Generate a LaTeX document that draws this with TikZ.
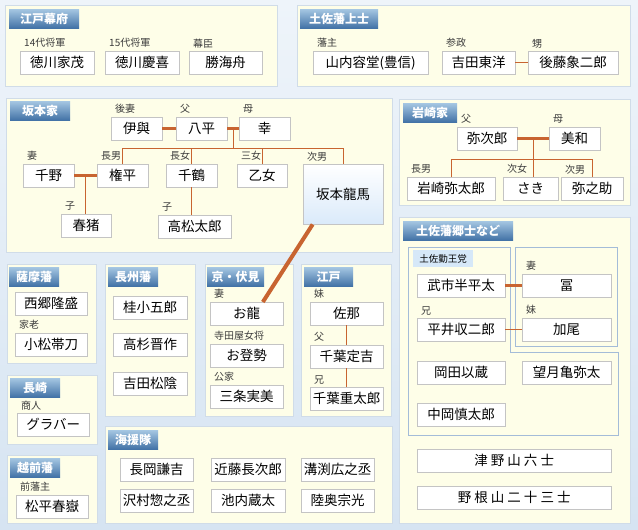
\documentclass[tikz,border=0pt]{standalone}
\usepackage{fontspec}
\setmainfont{Noto Sans CJK JP}
\usepackage{tikz}
\usetikzlibrary{positioning,calc,shadows}
\definecolor{bgtop}{RGB}{238,244,250}
\definecolor{bgbot}{RGB}{214,228,242}
\definecolor{panelbg}{RGB}{254,254,232}
\definecolor{panelline}{RGB}{208,220,232}
\definecolor{hdrtop}{RGB}{164,198,226}
\definecolor{hdrbot}{RGB}{66,114,166}
\definecolor{boxline}{RGB}{196,196,196}
\definecolor{lbltext}{RGB}{60,60,60}
\definecolor{famline}{RGB}{200,100,48}
\definecolor{frameline}{RGB}{164,188,216}
\definecolor{kinnobg}{RGB}{214,232,248}
\definecolor{ryomabot}{RGB}{218,234,250}

\begin{document}
\begin{tikzpicture}[x=1pt, y=-1pt,
    panel/.style={draw=panelline, fill=panelbg},
    hdr/.style={anchor=north west, minimum height=19pt, inner sep=0pt, top color=hdrtop, bottom color=hdrbot, text=white, font=\bfseries\fontsize{12}{12}\selectfont},
    pbox/.style={anchor=north west, draw=boxline, fill=white, minimum height=23pt, inner sep=0pt, font=\fontsize{13.5}{14}\selectfont, drop shadow={shadow xshift=1pt, shadow yshift=-1pt, opacity=0.15}},
    lbl/.style={inner sep=0pt, font=\fontsize{10}{10}\selectfont, text=lbltext},
    tie/.style={draw=famline, line width=3.5pt},
    kin/.style={draw=famline, line width=1.2pt},
    tframe/.style={draw=frameline, line width=0.8pt},
]
    \useasboundingbox (0,0) rectangle (638,530);
    \fill[top color=bgtop, bottom color=bgbot] (0,0) rectangle (638,530);

    % panels
    \draw[panel] (5,5) rectangle (277,86);
    \draw[panel] (297,5) rectangle (630,86);
    \draw[panel] (6,98) rectangle (392,252);
    \draw[panel] (399,99) rectangle (630,205);
    \draw[panel] (7,264) rectangle (96,363);
    \draw[panel] (7,375) rectangle (97,444);
    \draw[panel] (7,455) rectangle (97,523);
    \draw[panel] (105,264) rectangle (195,416);
    \draw[panel] (205,264) rectangle (293,416);
    \draw[panel] (301,264) rectangle (391,416);
    \draw[panel] (105,426) rectangle (392,523);
    \draw[panel] (399,217) rectangle (630,523);

    % headers
    \node[hdr, minimum width=70pt] (h-bakufu) at (9,9) {江戸幕府};
    \node[hdr, minimum width=78pt] (h-joshi) at (300,9) {土佐藩上士};
    \node[hdr, minimum width=60pt] (h-sakamoto) at (10,101) {坂本家};
    \node[hdr, minimum width=54pt] (h-iwasaki) at (403,103) {岩崎家};
    \node[hdr, minimum width=50pt] (h-satsuma) at (9,267) {薩摩藩};
    \node[hdr, minimum width=50pt] (h-nagasaki) at (10,378) {長崎};
    \node[hdr, minimum width=50pt] (h-echizen) at (10,458) {越前藩};
    \node[hdr, minimum width=50pt] (h-choshu) at (108,267) {長州藩};
    \node[hdr, minimum width=57pt] (h-kyoto) at (207,267) {京・伏見};
    \node[hdr, minimum width=49pt] (h-edo) at (304,267) {江戸};
    \node[hdr, minimum width=50pt] (h-kaientai) at (108,430) {海援隊};
    \node[hdr, minimum width=110pt] (h-goshi) at (403,221) {土佐藩郷士など};

    % 土佐勤王党 frames
    \draw[tframe] (408,247) -- (510,247) -- (510,352) -- (618,352) -- (618,435) -- (408,435) -- cycle;
    \draw[tframe] (515,247) rectangle (617,346);
    \node[anchor=north west, fill=kinnobg, inner sep=0pt, minimum width=60pt, minimum height=17pt, font=\fontsize{9.5}{10}\selectfont] (kinno) at (413,250) {土佐勤王党};

    % 江戸幕府
    \node[pbox, minimum width=74pt] (iemochi) at (20,51) {徳川家茂};
    \node[pbox, minimum width=74pt] (yoshinobu) at (105,51) {徳川慶喜};
    \node[pbox, minimum width=73pt] (kaishu) at (189,51) {勝海舟};
    % 土佐藩上士
    \node[pbox, minimum width=115pt] (yodo) at (313,51) {山内容堂(豊信)};
    \node[pbox, minimum width=73pt] (toyo) at (442,51) {吉田東洋};
    \node[pbox, minimum width=90pt] (shojiro) at (528,51) {後藤象二郎};
    % 坂本家
    \node[pbox, minimum width=51pt] (iyo) at (111,117) {伊與};
    \node[pbox, minimum width=51pt] (hachihei) at (176,117) {八平};
    \node[pbox, minimum width=51pt] (sachi) at (239,117) {幸};
    \node[pbox, minimum width=51pt] (chino) at (23,164) {千野};
    \node[pbox, minimum width=51pt] (gonpei) at (97,164) {権平};
    \node[pbox, minimum width=51pt] (chizuru) at (166,164) {千鶴};
    \node[pbox, minimum width=50pt] (otome) at (237,164) {乙女};
    \node[pbox, minimum width=80pt, minimum height=60pt, top color=white, bottom color=ryomabot] (ryoma) at (303,164) {坂本龍馬};
    \node[pbox, minimum width=50pt] (haruino) at (61,214) {春猪};
    \node[pbox, minimum width=73pt] (takamatsu) at (158,215) {高松太郎};
    % 岩崎家
    \node[pbox, minimum width=60pt] (yajiro) at (457,127) {弥次郎};
    \node[pbox, minimum width=51pt] (miwa) at (549,127) {美和};
    \node[pbox, minimum width=88pt] (yataro) at (407,177) {岩崎弥太郎};
    \node[pbox, minimum width=55pt] (saki) at (503,177) {さき};
    \node[pbox, minimum width=62pt] (yanosuke) at (561,177) {弥之助};
    % 薩摩藩, 長崎, 越前藩
    \node[pbox, minimum width=72pt] (saigo) at (15,292) {西郷隆盛};
    \node[pbox, minimum width=72pt] (komatsu) at (15,333) {小松帯刀};
    \node[pbox, minimum width=72pt] (glover) at (17,413) {グラバー};
    \node[pbox, minimum width=72pt] (shungaku) at (16,495) {松平春嶽};
    % 長州藩
    \node[pbox, minimum width=74pt] (katsura) at (113,296) {桂小五郎};
    \node[pbox, minimum width=74pt] (takasugi) at (113,333) {高杉晋作};
    \node[pbox, minimum width=74pt] (shoin) at (113,372) {吉田松陰};
    % 京・伏見
    \node[pbox, minimum width=73pt] (oryo) at (210,302) {お龍};
    \node[pbox, minimum width=73pt] (otose) at (210,344) {お登勢};
    \node[pbox, minimum width=73pt] (sanjo) at (210,385) {三条実美};
    % 江戸
    \node[pbox, minimum width=73pt] (sana) at (310,302) {佐那};
    \node[pbox, minimum width=73pt] (sadakichi) at (310,345) {千葉定吉};
    \node[pbox, minimum width=73pt] (jutaro) at (310,387) {千葉重太郎};
    % 海援隊
    \node[pbox, minimum width=73pt] (nagaoka) at (120,458) {長岡謙吉};
    \node[pbox, minimum width=74pt] (kondo) at (211,458) {近藤長次郎};
    \node[pbox, minimum width=73pt] (mizobuchi) at (301,458) {溝渕広之丞};
    \node[pbox, minimum width=73pt] (sawamura) at (120,489) {沢村惣之丞};
    \node[pbox, minimum width=74pt] (ikeuchi) at (211,489) {池内蔵太};
    \node[pbox, minimum width=73pt] (mutsu) at (301,489) {陸奥宗光};
    % 土佐藩郷士など
    \node[pbox, minimum width=88pt] (takechi) at (417,274) {武市半平太};
    \node[pbox, minimum width=89pt] (tomi) at (522,274) {冨};
    \node[pbox, minimum width=88pt] (hirai) at (417,318) {平井収二郎};
    \node[pbox, minimum width=89pt] (kao) at (522,318) {加尾};
    \node[pbox, minimum width=88pt] (okada) at (417,361) {岡田以蔵};
    \node[pbox, minimum width=89pt] (mochizuki) at (522,361) {望月亀弥太};
    \node[pbox, minimum width=88pt] (nakaoka) at (417,403) {中岡慎太郎};
    \node[pbox, minimum width=194pt] (tsunoyama) at (417,449) {津 野 山 六 士};
    \node[pbox, minimum width=194pt] (noneyama) at (417,486) {野 根 山 二 十 三 士};

    % role labels
    \foreach \n/\t in {iemochi/14代将軍, yoshinobu/15代将軍, kaishu/幕臣, yodo/藩主, toyo/参政, shojiro/甥,
        iyo/後妻, hachihei/父, sachi/母, chino/妻, gonpei/長男, chizuru/長女, otome/三女, ryoma/次男,
        haruino/子, takamatsu/子, yajiro/父, miwa/母, yataro/長男, saki/次女, yanosuke/次男,
        komatsu/家老, glover/商人, shungaku/前藩主, oryo/妻, otose/寺田屋女将, sanjo/公家,
        sana/妹, sadakichi/父, jutaro/兄, tomi/妻, hirai/兄, kao/妹}
        \node[lbl, above right=3pt and 4pt of \n.north west] {\t};

    % family lines
    \draw[kin, line width=0.9pt] (toyo) -- (shojiro);
    \draw[tie] (iyo) -- (hachihei);
    \draw[tie] (hachihei) -- (sachi);
    \coordinate (sk-mid) at ($(hachihei.east)!.5!(sachi.west)$);
    \coordinate (sk-bar) at ($(sk-mid)+(0,20)$);
    \draw[kin] (sk-mid) -- (sk-bar);
    \draw[kin] (gonpei.north) |- (ryoma.north |- sk-bar) -- (ryoma.north);
    \foreach \c in {chizuru,otome}
        \draw[kin] (\c.north) -- (\c.north |- sk-bar);
    \draw[tie] (chino) -- (gonpei);
    \coordinate (gp-mid) at ($(chino.east)!.5!(gonpei.west)$);
    \draw[kin] (gp-mid) -- (gp-mid |- haruino.north);
    \draw[kin] (chizuru.south) -- (chizuru.south |- takamatsu.north);

    \draw[tie] (yajiro) -- (miwa);
    \coordinate (iw-mid) at ($(yajiro.east)!.5!(miwa.west)$);
    \coordinate (iw-bar) at ($(iw-mid)+(0,20.5)$);
    \draw[kin] (iw-mid) -- (iw-mid |- saki.north);
    \draw[kin] (yataro.north) |- (iw-bar) -| (yanosuke.north);

    \draw[kin, line width=0.9pt] (sana) -- (sadakichi);
    \draw[kin, line width=0.9pt] (sadakichi) -- (jutaro);
    \draw[tie] (takechi) -- (tomi);
    \draw[kin, line width=0.9pt] (hirai) -- (kao);

    \draw[famline, line width=4pt] ($(ryoma.south west)!.12!(ryoma.south east)$) -- ($(oryo.north west)!.72!(oryo.north east)$);
\end{tikzpicture}
\end{document}
